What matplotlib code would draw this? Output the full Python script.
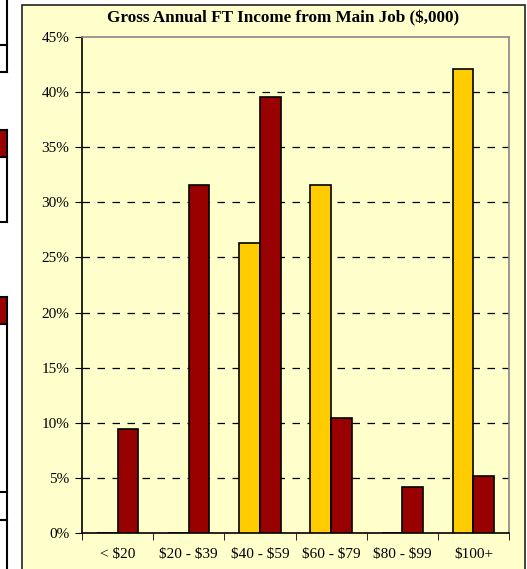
import matplotlib.pyplot as plt
from matplotlib.patches import Rectangle
from matplotlib.lines import Line2D
import numpy as np

plt.rcParams['font.family'] = ['Liberation Serif', 'DejaVu Serif']
plt.rcParams['text.parse_math'] = False

categories = ['< $20', '$20 - $39', '$40 - $59', '$60 - $79', '$80 - $99', '$100+']
yellow_vals = [0.0, 0.0, 26.3, 31.6, 0.0, 42.1]
red_vals = [9.4, 31.6, 39.6, 10.4, 4.2, 5.2]
y_ticks = [0, 5, 10, 15, 20, 25, 30, 35, 40, 45]

W, H = 527, 569
fig = plt.figure(figsize=(W / 100, H / 100), dpi=100)
fig.patch.set_facecolor('white')

def px(x, y):
    return x / W, 1 - y / H

# bits of the neighbouring table on the left edge
for y0, y1 in [(130, 157), (297, 324)]:
    fig.add_artist(Rectangle(px(0, y1), 7 / W, (y1 - y0) / H, transform=fig.transFigure,
                             facecolor='#990000', edgecolor='none', zorder=-5))
for y in [45, 72, 130, 157, 222, 297, 324, 492, 520]:
    fig.add_artist(Line2D([0, 7 / W], [1 - y / H] * 2, transform=fig.transFigure, color='black', lw=1.5, zorder=-5))
for y0, y1 in [(0, 72), (130, 222), (297, 569)]:
    fig.add_artist(Line2D([7 / W] * 2, [1 - y0 / H, 1 - y1 / H], transform=fig.transFigure, color='black', lw=1.5, zorder=-5))

# chart frame
fig.add_artist(Rectangle(px(22, 575), (525 - 22) / W, (575 - 5) / H, transform=fig.transFigure,
                         facecolor='#FFFFCC', edgecolor='#222222', lw=1.2, zorder=-5))

ax = fig.add_axes([82 / W, 1 - 533 / H, (509 - 82) / W, (533 - 37) / H])
ax.set_facecolor('#FFFFCC')

x = np.arange(len(categories))
bw = 0.29
ax.bar(x - bw / 2, yellow_vals, bw, color='#FFCC00', edgecolor='black', linewidth=1.2, zorder=3)
ax.bar(x + bw / 2, red_vals, bw, color='#990000', edgecolor='black', linewidth=1.2, zorder=3)

ax.set_xlim(-0.5, len(categories) - 0.5)
ax.set_ylim(0, 45)
ax.set_yticks(y_ticks)
ax.set_yticklabels([f'{v}%' for v in y_ticks], fontsize=11)
ax.set_xticks(x)
ax.set_xticklabels(categories, fontsize=11)
ax.tick_params(axis='x', length=0, pad=11)
ax.set_xticks(np.arange(-0.5, len(categories)), minor=True)
ax.tick_params(axis='x', which='minor', length=5, direction='out', color='black')
ax.tick_params(axis='y', length=5, direction='out', color='black', pad=4)

for v in y_ticks[1:-1]:
    ax.axhline(v, color='black', lw=0.9, dashes=(6, 6), zorder=1)

ax.spines['left'].set_color('black')
ax.spines['bottom'].set_color('black')
ax.spines['top'].set_color('#888888')
ax.spines['right'].set_color('#888888')
for s in ax.spines.values():
    s.set_linewidth(1.2)

fig.text(283 / W, 1 - 18 / H, 'Gross Annual FT Income from Main Job ($,000)', ha='center', va='center',
         fontsize=12.3, fontweight='bold')

fig.savefig('out.png', dpi=100)
